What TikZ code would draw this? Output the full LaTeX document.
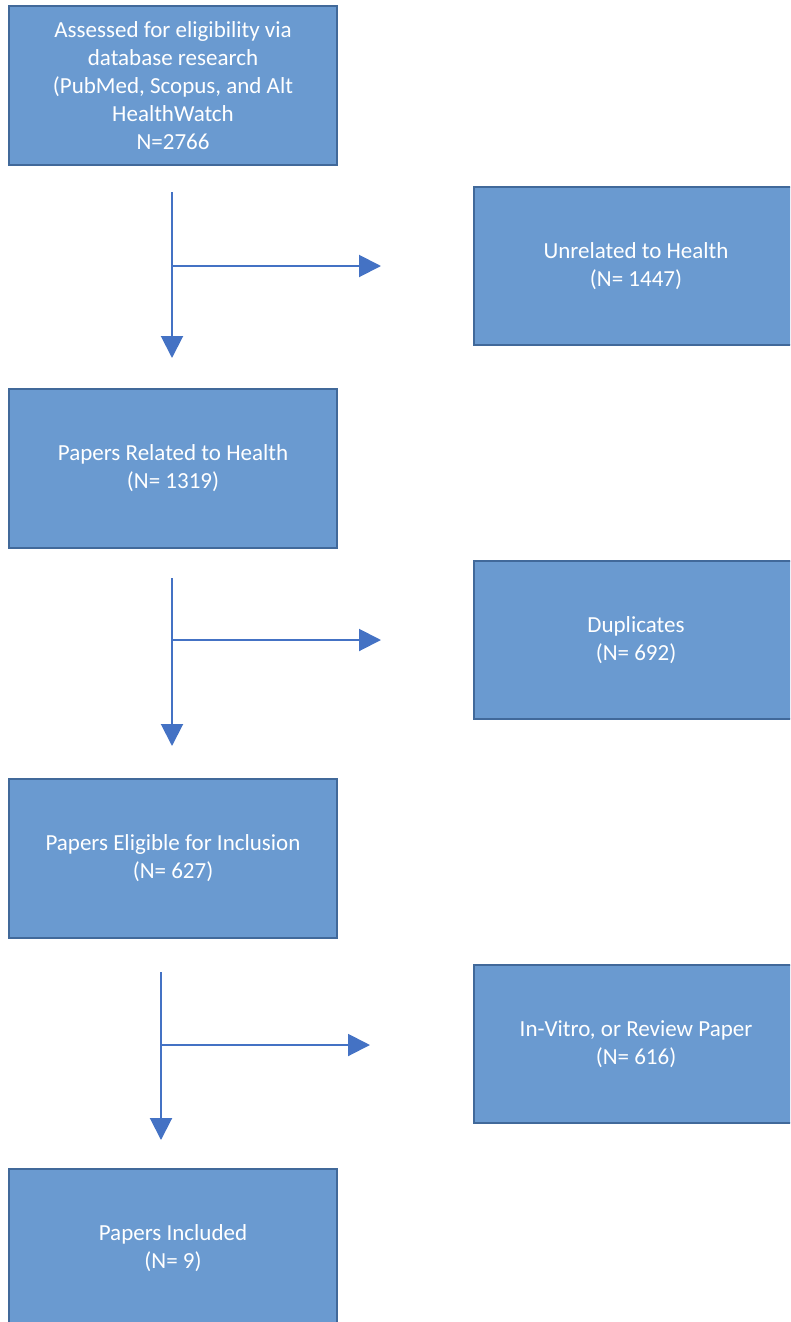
\documentclass[tikz,border=0pt]{standalone}
\usepackage{fontspec}
\setmainfont{Carlito}
\usepackage{xcolor}
\usetikzlibrary{arrows.meta}
\definecolor{boxfill}{HTML}{6A9AD0}
\definecolor{boxline}{HTML}{41699A}
\definecolor{flowline}{HTML}{4472C4}
\def\boxwidth{328pt}
\def\boxheight{159pt}

\begin{document}
\begin{tikzpicture}[x=1pt,y=-1pt,line width=2pt,draw=flowline,
    -{Triangle[length=22pt,width=22pt]}]
    \tikzstyle{stage}=[rectangle,fill=boxfill,draw=boxline,line width=2.5pt,
        minimum width=\boxwidth,minimum height=\boxheight,inner sep=0pt,
        text=white,align=center,font=\fontsize{23}{28}\selectfont]
    \tikzstyle{keep}=[stage]
    \tikzstyle{drop}=[stage, minimum width=324pt, minimum height=158pt]

    \useasboundingbox (0,0) rectangle (790,1322);
    \clip (0,0) rectangle (790,1322);

    % Draw the main stages
    \node[keep] (K-1) at (173,85.5) {Assessed for eligibility via\\database research\\(PubMed, Scopus, and Alt\\HealthWatch\\N=2766};
    \node[keep] (K-2) at (173,468.5) {Papers Related to Health\\(N= 1319)};
    \node[keep] (K-3) at (173,858.5) {Papers Eligible for Inclusion\\(N= 627)};
    \node[keep] (K-4) at (173,1248.5) {Papers Included\\(N= 9)};

    % Draw the excluded papers
    \node[drop] (D-1) at (636,266) {Unrelated to Health\\(N= 1447)};
    \node[drop] (D-2) at (636,640) {Duplicates\\(N= 692)};
    \node[drop] (D-3) at (636,1044) {In-Vitro, or Review Paper\\(N= 616)};

    % Free ends of the arrows
    \foreach \name / \x / \ya / \yb / \yc / \xe in
        {1/172/192/266/358/381, 2/172/578/640/746/381, 3/161/972/1045/1140/370}
    {
        \coordinate (S-\name) at (\x,\ya);
        \coordinate (J-\name) at (\x,\yb);
        \coordinate (T-\name) at (\x,\yc);
        \coordinate (E-\name) at (\xe,\yb);
    }

    % Connect the stages
    \foreach \name in {1,2,3}
    {
        \draw[-] (S-\name) -- (J-\name);
        \draw (J-\name) -- (T-\name);
        \draw (J-\name) -- (E-\name);
    }

\end{tikzpicture}
\end{document}
